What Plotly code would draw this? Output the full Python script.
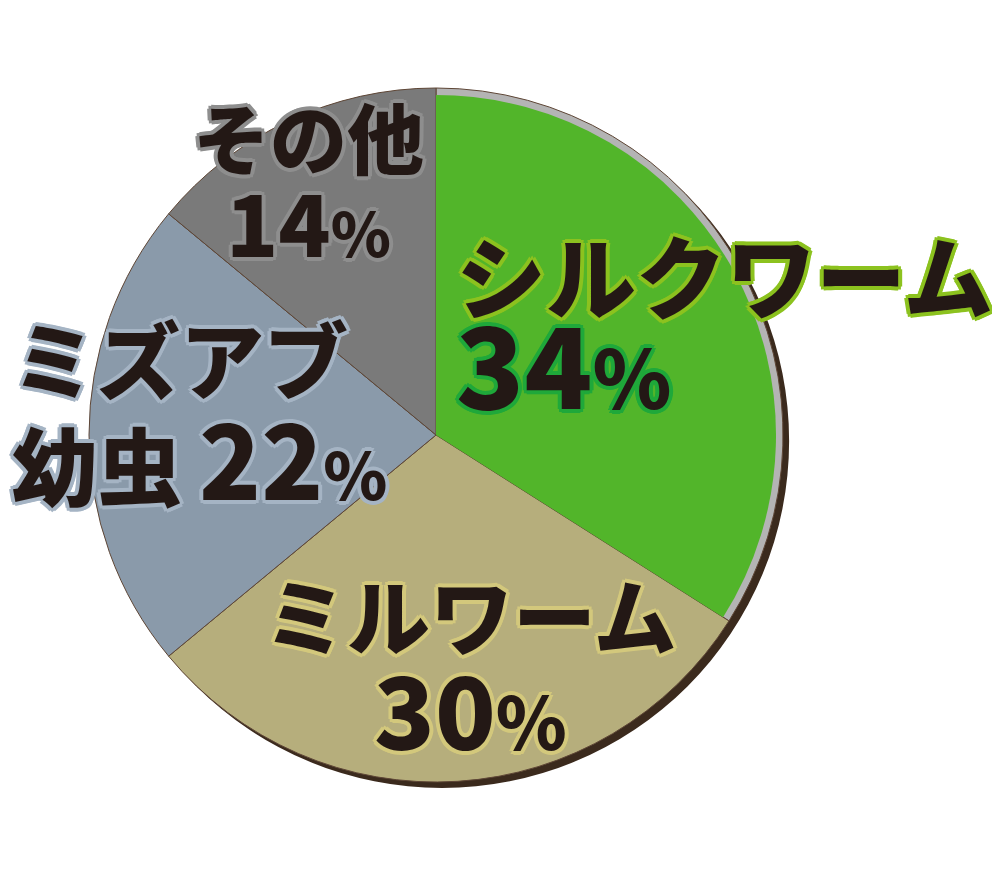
import plotly.graph_objects as go

# data
categories = ["シルクワーム", "ミルワーム", "ミズアブ幼虫", "その他"]
values = [34, 30, 22, 14]
slice_colors = ["#52b52a", "#b6ae7c", "#8a9aaa", "#7a7a7a"]
outline_colors = ["#8cc21f", "#d3c87c", "#a5b4c4", "#8e8e8e"]
pct_outline = ["#1fa83a", "#d3c87c", "#a5b4c4", "#8e8e8e"]
name_lines = ["シルクワーム", "ミルワーム", "ミズアブ", "その他"]
pct_prefix = ["", "", "幼虫", ""]

W, H = 1000, 896
OFF = 8  # page body margin
CX, CY, R = 436 - OFF, 435 - OFF, 347
TEXT = "#231815"
FONT = "Noto Sans CJK JP"


def px_dom(cx, cy, r):
    return dict(x=[(cx - r) / W, (cx + r) / W], y=[1 - (cy + r) / H, 1 - (cy - r) / H])


def outline(c, w=4):
    d = w * 0.7
    offs = [(w, 0), (-w, 0), (0, w), (0, -w), (d, d), (-d, -d), (d, -d), (-d, d)]
    return ", ".join(f"{x:.1f}px {y:.1f}px 0 {c}" for x, y in offs)


fig = go.Figure()

# drop shadow under the pie
fig.add_trace(go.Pie(
    values=[1], marker=dict(colors=["#3b2a1d"], line=dict(width=0)),
    domain=px_dom(CX + 6, CY + 6, R), textinfo="none", hoverinfo="skip",
    showlegend=False, sort=False,
))

base_colors = ["#b4b4b4"] + slice_colors[1:]
fig.add_trace(go.Pie(
    labels=categories, values=values, sort=False, direction="clockwise",
    marker=dict(colors=base_colors, line=dict(color="#5e4636", width=1)),
    domain=px_dom(CX, CY, R), textinfo="none", showlegend=False,
))

# green slice sits slightly inside the rim
fig.add_trace(go.Pie(
    labels=categories, values=values, sort=False, direction="clockwise",
    marker=dict(colors=[slice_colors[0], "rgba(0,0,0,0)", "rgba(0,0,0,0)", "rgba(0,0,0,0)"],
                line=dict(width=0)),
    domain=px_dom(CX, CY, R - 7), textinfo="none", hoverinfo="skip", showlegend=False,
))

# label layout: (x, y_name, y_pct, anchor, name size, digit size, prefix size, % scale)
label_pos = [
    (454, 273, 360, "left", 90, 112, 90, 0.72),
    (470, 613, 706, "center", 83, 100, 83, 0.72),
    (10, 356, 455, "left", 84, 102, 85, 0.64),
    (308, 136, 220, "center", 77, 86, 77, 0.72),
]

for i, (x, yn, yp, anc, sn, sp, pf, ps) in enumerate(label_pos):
    fig.add_annotation(
        x=(x - OFF) / W, y=1 - (yn - OFF) / H, xref="paper", yref="paper",
        xanchor=anc, yanchor="middle", text=name_lines[i], showarrow=False,
        font=dict(family=FONT, size=sn, color=TEXT, weight=900, shadow=outline(outline_colors[i])),
    )
    prefix = ""
    if pct_prefix[i]:
        prefix = f"<span style='font-size:{pf}px'>{pct_prefix[i]}\u2009</span>"
    pct = (f"{prefix}<span style='font-size:{sp}px'>{values[i]}</span>"
           f"<span style='font-size:{int(sp * ps)}px'>%</span>")
    fig.add_annotation(
        x=(x - OFF) / W, y=1 - (yp - OFF) / H, xref="paper", yref="paper",
        xanchor=anc, yanchor="middle", text=pct, showarrow=False,
        font=dict(family=FONT, size=sn, color=TEXT, weight=900, shadow=outline(pct_outline[i])),
    )

fig.update_layout(
    width=W, height=H, margin=dict(l=0, r=0, t=0, b=0),
    paper_bgcolor="white", plot_bgcolor="white", showlegend=False,
)

fig.write_html("out.html")
